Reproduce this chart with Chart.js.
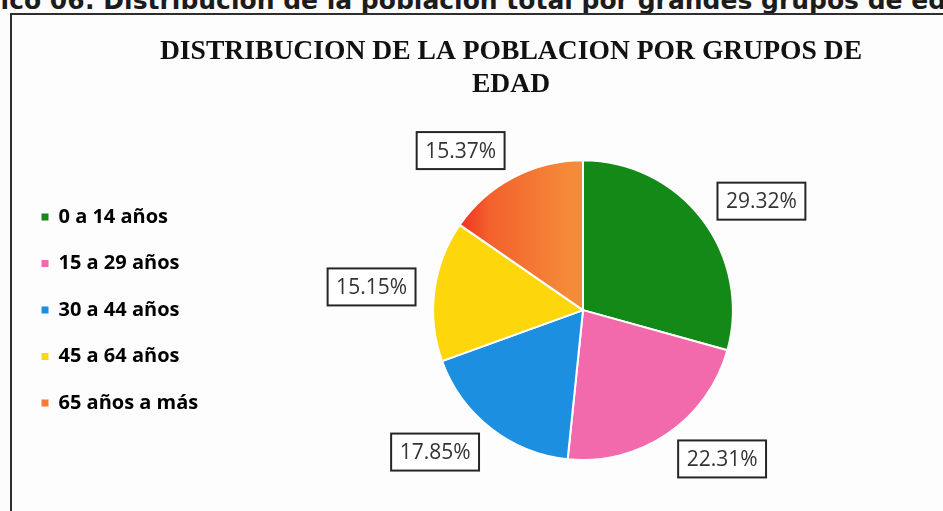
<!DOCTYPE html>
<html lang="es">
<head>
    <meta charset="UTF-8">
    <title>Distribución de la población por grupos de edad</title>
    <script src="https://cdn.jsdelivr.net/npm/chart.js@4.4.0/dist/chart.umd.min.js"></script>
    <style>
        html, body {
            margin: 0;
            padding: 0;
            width: 943px;
            height: 511px;
            overflow: hidden;
            background: #fcfcfc;
        }

        .heading {
            position: absolute;
            left: -60px;
            top: -12px;
            line-height: 25px;
            white-space: nowrap;
            font-family: "DejaVu Sans", Verdana, sans-serif;
            font-weight: bold;
            font-size: 25px;
            color: #1c1c1c;
        }

        .frame {
            position: absolute;
            left: 10px;
            top: 13px;
            width: 1100px;
            height: 600px;
            border: 2.5px solid #2e2e2e;
            background: #fdfdfd;
        }

        .chart-box {
            position: absolute;
            left: 14px;
            top: 17px;
            width: 1040px;
            height: 494px;
        }
    </style>
</head>
<body>
    <div class="heading">Gráfico 06: Distribución de la población total por grandes grupos de edad</div>
    <div class="frame"></div>
    <div class="chart-box">
        <canvas id="pieChart"></canvas>
    </div>

    <script>
        // grupos de edad y su participación (%)
        const grupos = ['0 a 14 años', '15 a 29 años', '30 a 44 años', '45 a 64 años', '65 años a más'];
        const porcentajes = [29.32, 22.31, 17.85, 15.15, 15.37];
        const colores = ['#138a17', '#f26aab', '#1d8fe1', '#fdd70c', '#f47a35'];
        const titulo = ['DISTRIBUCION DE LA POBLACION POR GRUPOS DE', 'EDAD'];

        // the last slice fades from red on its outer left side to orange
        function sliceColor(ctx) {
            const i = ctx.dataIndex;
            if (i !== 4 || !ctx.chart.chartArea) return colores[i];
            const a = ctx.chart.chartArea;
            const cx = (a.left + a.right) / 2;
            const r = Math.min(a.width, a.height) / 2;
            const g = ctx.chart.ctx.createLinearGradient(cx - r * 0.85, 0, cx - r * 0.1, 0);
            g.addColorStop(0, '#ee2a1c');
            g.addColorStop(0.3, '#f3602d');
            g.addColorStop(1, '#f58a38');
            return g;
        }

        // legend keeps a narrow layout slot, but its text may run past it
        const legendOverflow = {
            id: 'legendOverflow',
            afterLayout(chart) {
                chart.legend.right = chart.legend.left + 260;
            }
        };

        // boxed percentage labels just outside each slice
        const boxedLabels = {
            id: 'boxedLabels',
            afterDatasetsDraw(chart) {
                const ctx = chart.ctx;
                const arcs = chart.getDatasetMeta(0).data;
                ctx.save();
                ctx.font = '21px "Open Sans", sans-serif';
                ctx.textAlign = 'center';
                ctx.textBaseline = 'middle';
                arcs.forEach((arc, i) => {
                    const p = arc.getProps(['x', 'y', 'startAngle', 'endAngle', 'outerRadius'], true);
                    const mid = (p.startAngle + p.endAngle) / 2;
                    const text = porcentajes[i].toFixed(2) + '%';
                    const w = ctx.measureText(text).width + 17;
                    const h = 37;
                    const cx = p.x + Math.cos(mid) * (p.outerRadius + 19) + Math.sign(Math.cos(mid)) * w / 2;
                    const cy = p.y + Math.sin(mid) * (p.outerRadius + 21 + h / 4);
                    ctx.fillStyle = '#ffffff';
                    ctx.fillRect(cx - w / 2, cy - h / 2, w, h);
                    ctx.lineWidth = 2;
                    ctx.strokeStyle = '#262626';
                    ctx.strokeRect(cx - w / 2, cy - h / 2, w, h);
                    ctx.fillStyle = '#333333';
                    ctx.fillText(text, cx, cy + 1);
                });
                ctx.restore();
            }
        };

        new Chart(document.getElementById('pieChart'), {
            type: 'pie',
            data: {
                labels: grupos,
                datasets: [{
                    data: porcentajes,
                    backgroundColor: sliceColor,
                    borderColor: '#ffffff',
                    borderWidth: 2
                }]
            },
            options: {
                responsive: true,
                maintainAspectRatio: false,
                animation: false,
                layout: {
                    padding: { top: 0, bottom: 50, left: 1, right: 47 }
                },
                plugins: {
                    title: {
                        display: true,
                        text: titulo,
                        color: '#111111',
                        font: { family: '"Liberation Serif", "Times New Roman", serif', size: 27.6, weight: 'bold', lineHeight: 1.2 },
                        padding: { top: 18, bottom: 58 }
                    },
                    legend: {
                        position: 'left',
                        fullSize: false,
                        maxWidth: 144,
                        labels: {
                            boxWidth: 7,
                            boxHeight: 7,
                            padding: 26.5,
                            color: '#1a1a1a',
                            font: { family: '"Open Sans", sans-serif', size: 20, weight: 'bold' },
                            generateLabels(chart) {
                                return grupos.map((g, i) => ({
                                    text: g,
                                    fillStyle: colores[i],
                                    strokeStyle: colores[i],
                                    lineWidth: 0,
                                    hidden: false,
                                    index: i
                                }));
                            }
                        }
                    },
                    tooltip: { enabled: false }
                }
            },
            plugins: [legendOverflow, boxedLabels]
        });
    </script>
</body>
</html>
